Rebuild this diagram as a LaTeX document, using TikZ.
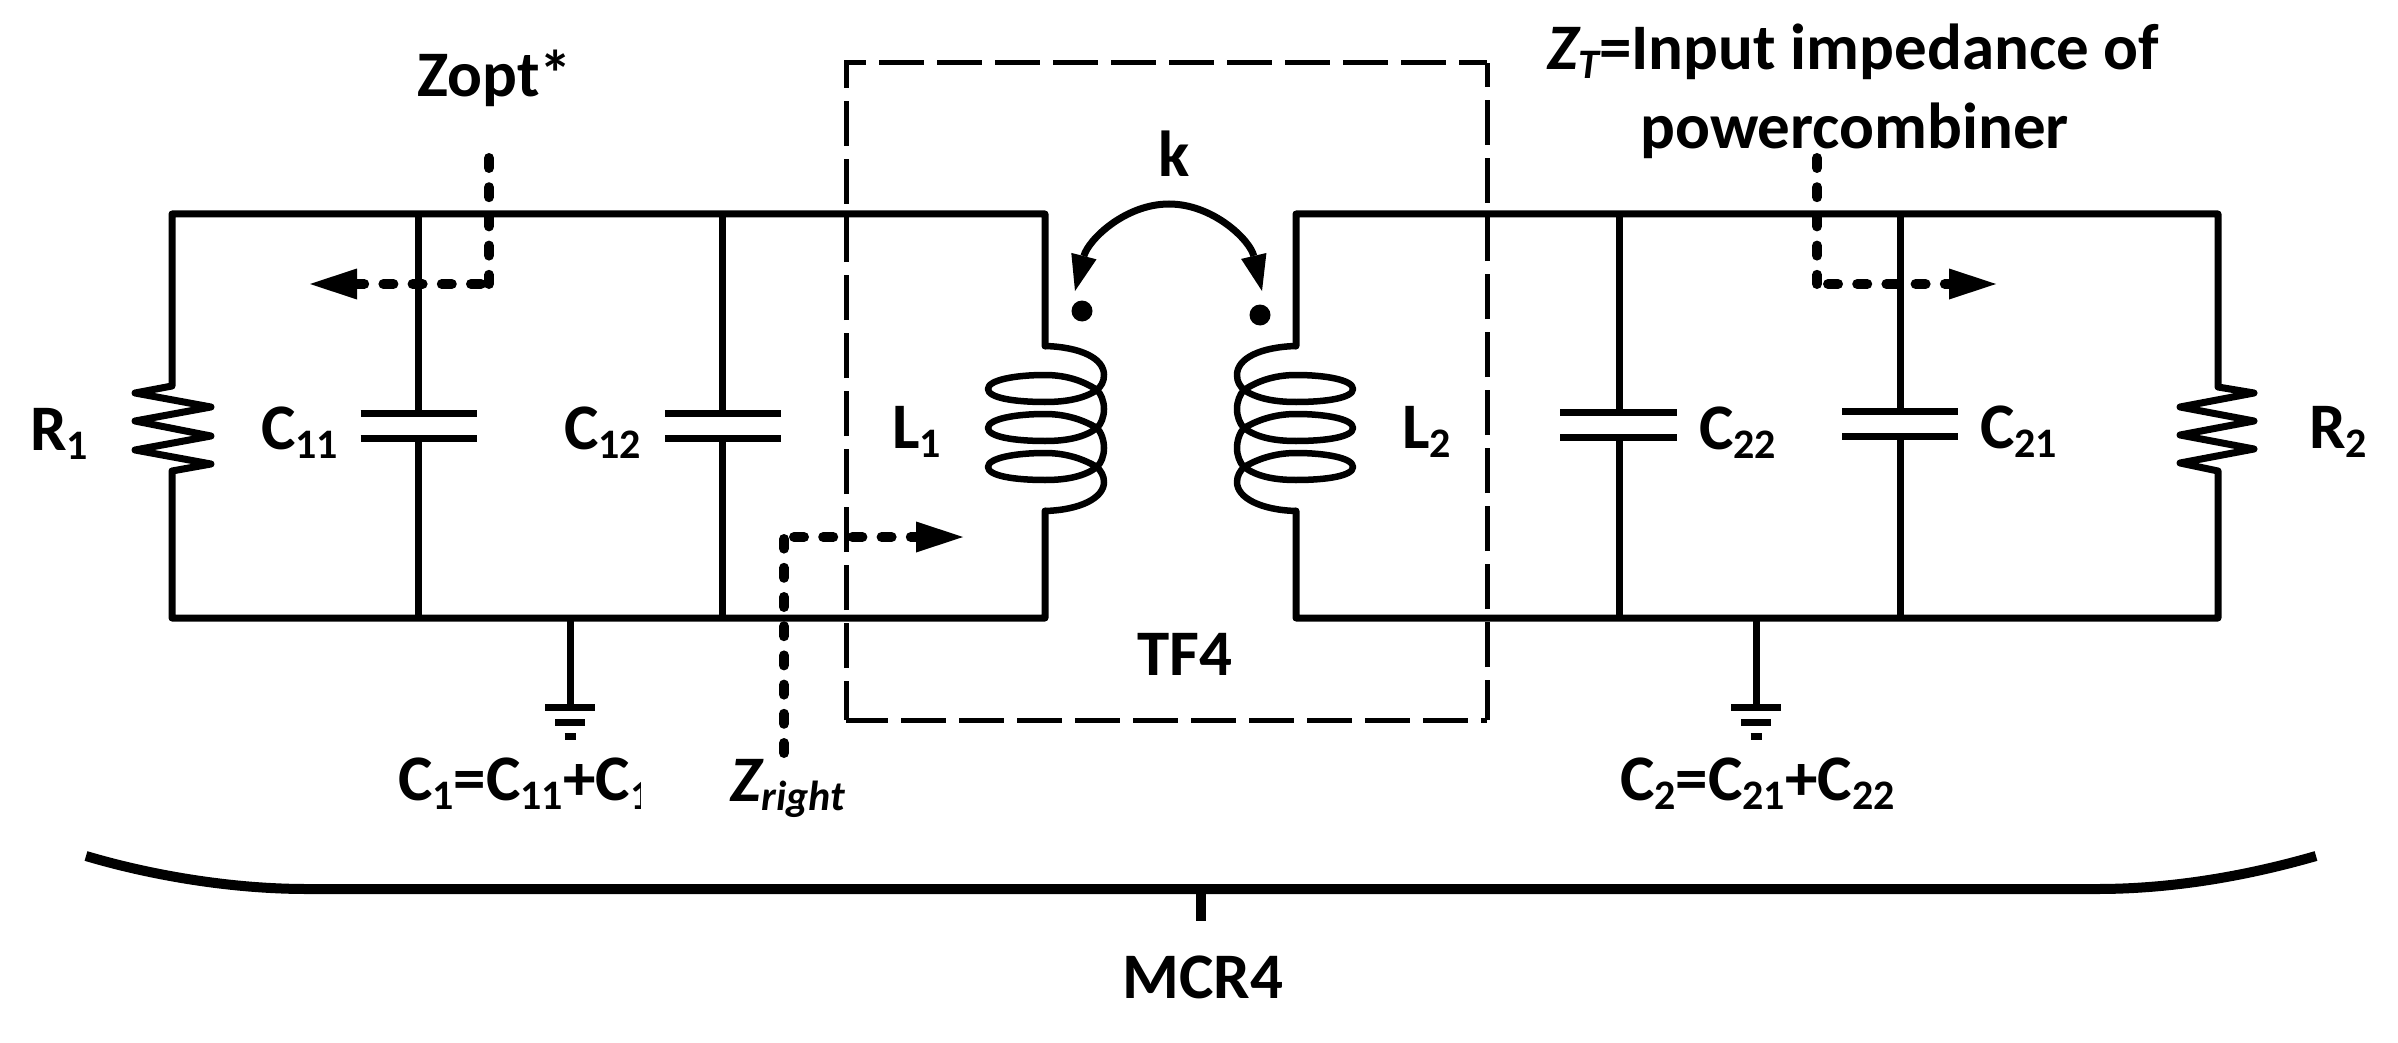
\documentclass[tikz,border=0pt]{standalone}
\usepackage{fontspec}
\setmainfont{Carlito}
\usetikzlibrary{arrows.meta}
\newcommand\subt[1]{\raisebox{-9pt}{\fontsize{42}{42}\selectfont #1}}
\newcommand\coilshape{%
  \draw[coilline] (1045,346) .. controls (1080,347) and (1104,358) .. (1104,375)
    .. controls (1104,382) and (1101,386) .. (1097,390)
    .. controls (1085,398) and (1068,402) .. (1045,402)
    .. controls (1015,402) and (988,398) .. (988,389)
    .. controls (988,380) and (1015,375) .. (1045,375)
    .. controls (1068,375) and (1085,382) .. (1097,390)
    .. controls (1101,394) and (1104,401) .. (1104,409)
    .. controls (1104,417) and (1101,424) .. (1097,428)
    .. controls (1085,437) and (1068,441) .. (1045,441)
    .. controls (1015,441) and (988,437) .. (988,428)
    .. controls (988,419) and (1015,414) .. (1045,414)
    .. controls (1068,414) and (1085,421) .. (1097,428)
    .. controls (1101,432) and (1104,440) .. (1104,448)
    .. controls (1104,456) and (1101,463) .. (1097,467)
    .. controls (1085,476) and (1068,480) .. (1045,480)
    .. controls (1015,480) and (988,476) .. (988,467)
    .. controls (988,458) and (1015,453) .. (1045,453)
    .. controls (1068,453) and (1085,460) .. (1097,467)
    .. controls (1101,471) and (1104,476) .. (1104,482)
    .. controls (1104,498) and (1080,510) .. (1045,511);}
\tikzset{
  wire/.style={line width=7pt,line join=round,line cap=round},
  branch/.style={line width=7pt},
  plate/.style={line width=7pt},
  coilline/.style={line width=6.5pt,line join=round},
  boxline/.style={line width=5pt,dash pattern=on 45pt off 13pt},
  probe/.style={line width=10pt,line cap=round,dash pattern=on 10pt off 19.2pt},
  probetip/.style={-{Triangle[length=47pt,width=31pt,line width=0pt]}},
  couple/.style={line width=7pt,{Triangle[length=36pt,width=26pt,line width=0pt]}-{Triangle[length=36pt,width=26pt,line width=0pt]}},
  bracel/.style={line width=10pt},
  txt/.style={anchor=base west,inner sep=0pt,font=\fontsize{65}{78}\selectfont\bfseries},
  dotmark/.style={circle,fill=black,inner sep=0pt,minimum size=21pt}
}
\begin{document}
\begin{tikzpicture}[x=1pt,y=-1pt]
\useasboundingbox (0,0) rectangle (2398,1043);
% named points
\coordinate (LT) at (172,214); \coordinate (LB) at (172,618);
\coordinate (LIT) at (1045,214); \coordinate (LIB) at (1045,618);
\coordinate (RT) at (2218,214); \coordinate (RB) at (2218,618);
\coordinate (RIT) at (1296,214); \coordinate (RIB) at (1296,618);
\coordinate (BoxA) at (846,720); \coordinate (BoxB) at (846,63);
\coordinate (BoxC) at (1487,63); \coordinate (BoxD) at (1487,720);
% dashed box
\draw[boxline,dash phase=6pt] (BoxA) -- (BoxB) -- (BoxC);
\draw[boxline,dash phase=3pt] (BoxA) -- (BoxD);
\draw[boxline,dash phase=5pt] (BoxD) -- (BoxC);
% left loop
\draw[wire] (1045,346) -- (LIT) -- (LT) -- (172,386) -- (135,393) -- (211,407) -- (135,421) -- (211,436) -- (135,450) -- (211,464) -- (172,471) -- (LB) -- (LIB) -- (1045,511);
% right loop
\draw[wire] (1296,346) -- (RIT) -- (RT) -- (2218,387) -- (2254,393) -- (2180,407) -- (2254,421) -- (2180,435) -- (2254,449) -- (2180,463) -- (2218,471) -- (RB) -- (RIB) -- (1296,511);
% capacitors
\foreach \cx/\cl/\cr/\ya/\yb/\tname in {418.5/360.5/477/413/438/a,722/665/781/413/438/b,1619/1560/1677/412.5/437.5/c,1900/1842/1958/411.5/436/d}{
  \coordinate (cap\tname t) at (\cx,214);
  \coordinate (cap\tname u) at (\cx,\ya);
  \coordinate (cap\tname v) at (\cx,\yb);
  \coordinate (cap\tname b) at (\cx,618);
  \draw[branch] (cap\tname t) -- (cap\tname u);
  \draw[branch] (cap\tname v) -- (cap\tname b);
  \draw[plate] (\cl,\ya) -- (\cr,\ya);
  \draw[plate] (\cl,\yb) -- (\cr,\yb);
}
% grounds
\foreach \gx/\gname in {570/g,1756/h}{
  \coordinate (\gname a) at (\gx,618);
  \coordinate (\gname b) at (\gx,704);
  \draw[branch] (\gname a) -- (\gname b);
  \draw[plate] (\gx-25,707) -- (\gx+25,707);
  \draw[plate] (\gx-15,722) -- (\gx+15,722);
  \draw[plate] (\gx-5.5,736) -- (\gx+5.5,736);
}
% coils
\coilshape
\begin{scope}[shift={(2341,0)},xscale=-1]
\coilshape
\end{scope}
% dots
\node[dotmark] (dotL) at (1082,311) {};
\node[dotmark] (dotR) at (1260,315) {};
% coupling arrow
\coordinate (kL) at (1075,291); \coordinate (kR) at (1262,291);
\draw[couple] (kL) .. controls (1088,240) and (1125,204) .. (1169,204) .. controls (1213,204) and (1250,240) .. (kR);
% probes
\coordinate (zoa) at (489,158); \coordinate (zob) at (489,284);
\coordinate (zoc) at (481,284); \coordinate (zod) at (310,284);
\draw[probe] (zoa) -- (zob);
\draw[probe,probetip] (zoc) -- (zod);
\coordinate (zta) at (1817,158); \coordinate (ztb) at (1817,284);
\coordinate (ztc) at (1828,284); \coordinate (ztd) at (1996,284);
\draw[probe] (zta) -- (ztb);
\draw[probe,probetip] (ztc) -- (ztd);
\coordinate (zra) at (784,753); \coordinate (zrb) at (784,539);
\coordinate (zrc) at (794,537); \coordinate (zrd) at (963,537);
\draw[probe] (zra) -- (zrb);
\draw[probe,probetip] (zrc) -- (zrd);
% brace
\coordinate (bl) at (86,856); \coordinate (bm1) at (307,889);
\coordinate (bm2) at (2097,889); \coordinate (br) at (2316,856);
\draw[bracel] (bl) .. controls (150,875) and (230,889) .. (bm1) -- (bm2) .. controls (2175,889) and (2250,875) .. (br);
\coordinate (ta) at (1201,889); \coordinate (tb) at (1201,921);
\draw[bracel] (ta) -- (tb);
% text
\node[txt] (tZopt) at (417,97) {Zopt*};
\node[txt] (tZT) at (1547,70) {\itshape Z\subt{T}\upshape=Input impedance of};
\node[txt] (tPow) at (1640,149) {powercombiner};
\node[txt] (tk) at (1158,177) {k};
\node[txt] (tR1) at (30,450) {R\subt{1}};
\node[txt] (tC11) at (261,449) {C\subt{11}};
\node[txt] (tC12) at (564,449) {C\subt{12}};
\node[txt] (tL1) at (892,448) {L\subt{1}};
\node[txt] (tL2) at (1402,448) {L\subt{2}};
\node[txt] (tC22) at (1699,449) {C\subt{22}};
\node[txt] (tC21) at (1980,448) {C\subt{21}};
\node[txt] (tR2) at (2309,448) {R\subt{2}};
\node[txt] (tTF) at (1137,675) {TF4};
\node[txt] (tC1) at (398,800) {C\subt{1}=C\subt{11}+C};
\begin{scope}
\clip (600,760) rectangle (640,830);
\node[txt] (tC1end) at (tC1.base east) {\subt{1}};
\end{scope}
\node[txt] (tZr) at (730,801) {\itshape Z\subt{right}};
\node[txt] (tC2) at (1620,800) {C\subt{2}=C\subt{21}+C\subt{22}};
\node[txt] (tMCR) at (1122,998) {MCR4};
\end{tikzpicture}
\end{document}
